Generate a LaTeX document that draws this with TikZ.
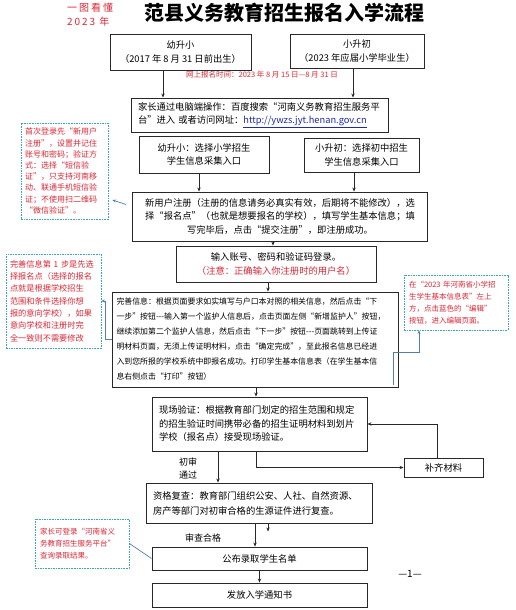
\documentclass[tikz,border=0pt]{standalone}
\usepackage{fontspec}
\setmainfont{Noto Sans CJK SC}
\newfontfamily\spacedcjk{Noto Sans CJK SC}[LetterSpace=20]
\usepackage{tikz}
\usetikzlibrary{arrows.meta,positioning,calc}
\definecolor{fxred}{RGB}{215,40,55}
\definecolor{fxline}{RGB}{40,40,40}
\definecolor{fxcyan}{RGB}{60,165,185}
\definecolor{fxlink}{RGB}{85,125,170}
\definecolor{fxblue}{RGB}{30,40,170}

\begin{document}
\begin{tikzpicture}[x=1pt, y=-1pt,
  box/.style={rectangle, draw=fxline, line width=0.9pt, fill=white, inner sep=0pt, font=\fontsize{9.3}{13.5}\selectfont},
  note/.style={rectangle, draw=fxcyan, line width=0.8pt, dash pattern=on 1.6pt off 1pt, fill=white, text=fxred, align=left, inner sep=0pt},
  arr/.style={fxline, line width=0.8pt, -{Stealth[length=4pt,width=3.4pt]}},
  noteline/.style={fxlink, line width=0.7pt}
]
  \useasboundingbox (0,0) rectangle (515,610);

  % Title
  \node[font=\bfseries\fontsize{20}{24}\selectfont] (title) at (284,13) {范县义务教育招生报名入学流程};
  \node[font=\spacedcjk\fontsize{10}{14}\selectfont, text=fxred, align=left] (tag) at (90,15) {一图看懂\\2023 年};

  % Entry
  \node[box, minimum width=141pt, minimum height=36pt, align=center] (yx) at (180.5,52)
    {幼升小\\（2017 年 8 月 31 日前出生）};
  \node[box, minimum width=134pt, minimum height=34pt, align=center] (xs) at (357,51)
    {小升初\\（2023 年应届小学毕业生）};
  \node[font=\fontsize{7.5}{9}\selectfont, text=fxred] (date) at (262,75)
    {网上报名时间：2023 年 8 月 15 日—8 月 31 日};

  % Platform
  \node[box, text width=243pt, inner xsep=7pt, minimum height=34pt, align=left] (web) at (259.5,115)
    {家长通过电脑端操作：百度搜索“河南义务教育招生服务平\\
     台”进入 或者访问网址：\textcolor{fxblue}{\underline{http://ywzs.jyt.henan.gov.cn}}};
  \node[box, minimum width=130pt, minimum height=37pt, align=center] (sel1) at (204,154.5)
    {幼升小：选择小学招生\\学生信息采集入口};
  \node[box, minimum width=115pt, minimum height=34pt, align=center] (sel2) at (361.5,155)
    {小升初：选择初中招生\\学生信息采集入口};

  % Register
  \node[box, minimum width=295pt, minimum height=49pt, align=center] (reg) at (280,216.5)
    {新用户注册（注册的信息请务必真实有效，后期将不能修改），选\\
     择“报名点”（也就是想要报名的学校），填写学生基本信息；填\\
     写完毕后，点击“提交注册”，即注册成功。};
  \node[box, minimum width=200pt, minimum height=36pt, align=center] (login) at (276,264)
    {输入账号、密码和验证码登录。\\\textcolor{fxred}{（注意：正确输入你注册时的用户名）}};

  % Info
  \node[box, text width=277pt, inner xsep=4.5pt, minimum height=95pt, align=left, font=\fontsize{7.9}{15}\selectfont] (info) at (255,339.5)
    {完善信息：根据页面要求如实填写与户口本对照的相关信息，然后点击“下\\
     一步”按钮-{}-{}-输入第一个监护人信息后，点击页面左侧“新增监护人”按钮，\\
     继续添加第二个监护人信息，然后点击“下一步”按钮-{}-{}-页面跳转到上传证\\
     明材料页面，无须上传证明材料，点击“确定完成”，至此报名信息已经进\\
     入到您所报的学校系统中即报名成功。打印学生基本信息表（在学生基本信\\
     息右侧点击“打印”按钮）};

  % Check
  \node[box, text width=201pt, inner xsep=7pt, minimum height=54pt, align=left] (verify) at (259.5,424)
    {现场验证：根据教育部门划定的招生范围和规定\\
     的招生验证时间携带必备的招生证明材料到划片\\
     学校（报名点）接受现场验证。};
  \node[box, minimum width=79pt, minimum height=19pt] (bq) at (443.5,467.5) {补齐材料};
  \node[box, text width=212pt, inner xsep=7pt, minimum height=40pt, align=left, font=\fontsize{9.3}{15}\selectfont] (review) at (259,503)
    {资格复查：教育部门组织公安、人社、自然资源、\\
     房产等部门对初审合格的生源证件进行复查。};
  \node[box, minimum width=215pt, minimum height=23pt] (publish) at (259.5,558.5) {公布录取学生名单};
  \node[box, minimum width=215pt, minimum height=24pt] (notice) at (259.5,595) {发放入学通知书};

  % Labels
  \node[font=\fontsize{9}{13}\selectfont, align=center] (pass) at (188,468) {初审\\通过};
  \node[font=\fontsize{9}{11}\selectfont] (ok) at (203,538) {审查合格};
  \node[font=\fontsize{10}{12}\selectfont] (page) at (410,574) {—1—};

  % Notes
  \node[note, minimum width=87pt, minimum height=96pt, text width=79pt, inner xsep=4pt, font=\fontsize{8}{11.2}\selectfont] (noteReg) at (64.5,171)
    {首次登录先“新用户\\注册”，设置并记住\\账号和密码；验证方\\式：选择“短信验\\证”，只支持河南移\\动、联通手机短信验\\证；不使用扫二维码\\“微信验证”。};
  \node[note, minimum width=95pt, minimum height=94pt, text width=87pt, inner xsep=4pt, font=\fontsize{8.2}{12.3}\selectfont] (noteInfo) at (53.5,301)
    {完善信息第 1 步是先选\\择报名点（选择的报名\\点就是根据学校招生\\范围和条件选择你想\\报的意向学校），如果\\意向学校和注册时完\\全一致则不需要修改};
  \node[note, minimum width=104pt, minimum height=55pt, text width=94pt, inner xsep=5pt, font=\fontsize{7.5}{12}\selectfont] (noteEdit) at (456,302.5)
    {在“2023 年河南省小学招\\生学生基本信息表”左上\\方，点击蓝色的“编辑”\\按钮，进入编辑页面。};
  \node[note, minimum width=94pt, minimum height=49pt, text width=84pt, inner xsep=5pt, font=\fontsize{7.5}{12}\selectfont] (noteQuery) at (82,543.5)
    {家长可登录“河南省义\\务教育招生服务平台”\\查询录取结果。};

  % Flow
  \draw[arr] ([xshift=-17.5pt]yx.south) coordinate (a1) -- (a1 |- web.north);
  \draw[arr] ([xshift=-4pt]xs.south) coordinate (a2) -- (a2 |- web.north);
  \draw[arr] ([xshift=-5pt]sel1.south) coordinate (a3) -- (a3 |- reg.north);
  \draw[arr] ([xshift=-7.5pt]sel2.south) coordinate (a4) -- (a4 |- reg.north);
  \draw[arr] ([xshift=-7pt]reg.south) coordinate (a5) -- (a5 |- login.north);
  \draw[arr] ([xshift=-8pt]login.south) coordinate (a6) -- (a6 |- info.north);
  \draw[arr] ([xshift=1pt]info.south) coordinate (a7) -- (a7 |- verify.north);
  \draw[arr] ([xshift=-41.5pt]verify.south) coordinate (a8) -- (a8 |- review.north);
  \draw[arr] ([xshift=-3.5pt]verify.south) |- (bq.west);
  \draw[arr] ([xshift=-6.5pt]bq.north) |- (verify.east);
  \draw[arr] ([xshift=-4pt]review.south) coordinate (a9) -- (a9 |- publish.north);
  \coordinate (stub) at ([shift={(9,8)}]review.south);
  \draw[arr] ([xshift=9pt]review.south) -- (stub);
  \draw[arr] (publish.south) -- (notice.north);

  % Note links
  \draw[noteline, -{Stealth[length=3.5pt,width=3pt]}] ([shift={(-6,-12)}]reg.west) -- ([shift={(4,29)}]noteReg.east);
  \draw[noteline, -{Stealth[length=3.5pt,width=3pt]}] (info.west) -- ++(-6,0) |- (noteInfo.east);
  \draw[noteline, -{Stealth[length=3.5pt,width=3pt]}] ([shift={(-5,-2)}]info.south east) -- ++(0,-33) -| ([xshift=-37pt]noteEdit.south);
  \draw[noteline] (publish.west) -- (noteQuery.east);
\end{tikzpicture}
\end{document}
